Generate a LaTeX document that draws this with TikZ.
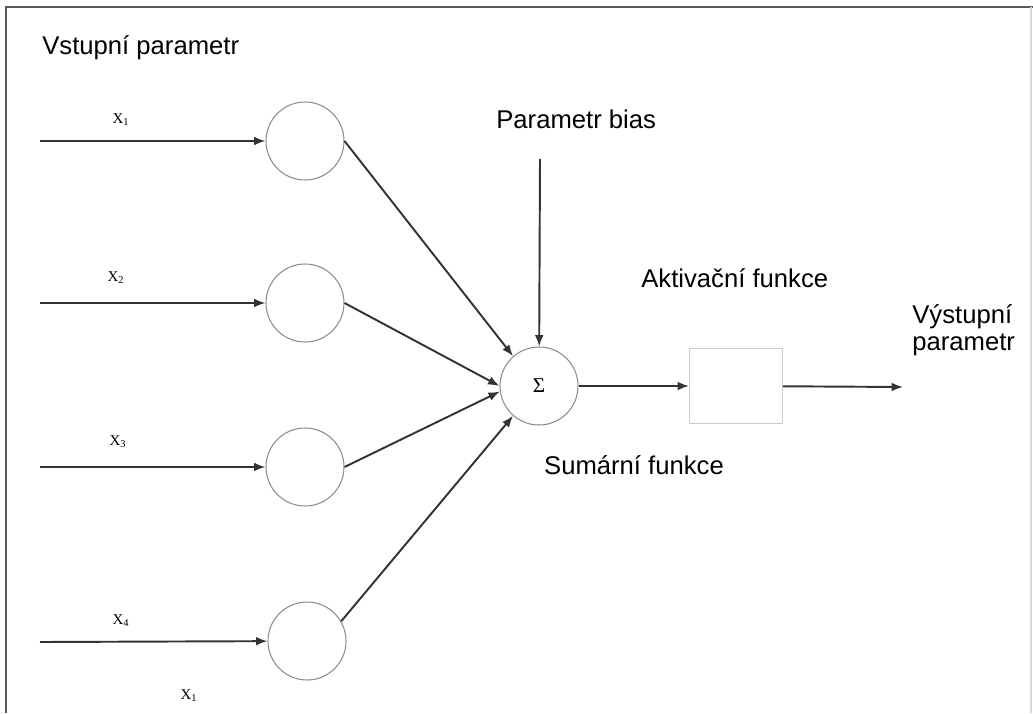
\documentclass[tikz,border=0pt]{standalone}
\usepackage{fontspec}
\setmainfont{Liberation Sans}
\newfontfamily\serifx{Liberation Serif}
\usetikzlibrary{arrows.meta}

\tikzset{
  neuron/.style={circle, draw=black!45, line width=0.6pt, minimum size=1.56cm, inner sep=0pt},
  signal/.style={-{Latex[length=6.5pt,width=5pt]}, line width=1.1pt, draw=black!80},
  caption/.style={inner sep=0pt, font=\fontsize{14.6}{15.6}\selectfont},
  xin/.style={inner sep=0pt, font=\serifx\fontsize{8.5}{9}\selectfont}
}

\begin{document}
\begin{tikzpicture}[x=0.02cm, y=-0.02cm]
  \useasboundingbox (0,0) rectangle (1033,713);
  \draw[black!65, line width=0.8pt] (6,713) -- (6,7) -- (1033,7);
  \draw[black!15, line width=0.6pt] (1031,7) -- (1031,713);

  \node[caption, anchor=base west] (intitle) at (42,55) {Vstupní parametr};
  \node[caption, anchor=base west] (biastitle) at (496,128) {Parametr bias};
  \node[caption, anchor=base west] (acttitle) at (641,287) {Aktivační funkce};
  \node[caption, anchor=base] (sumtitle) at (634,474) {Sumární funkce};
  \node[caption, anchor=base west] (outtitle1) at (912,323) {Výstupní};
  \node[caption, anchor=base west] (outtitle2) at (912,350) {parametr};

  \node[neuron] (in1) at (305,141) {};
  \node[neuron] (in2) at (305,303) {};
  \node[neuron] (in3) at (305,467) {};
  \node[neuron] (in4) at (307,641) {};
  \node[neuron] (sum) at (539,386) {\serifx\fontsize{12}{12}\selectfont Σ};
  \node[draw=black!20, line width=0.6pt, minimum width=1.86cm, minimum height=1.5cm, inner sep=0pt] (act) at (736,386) {};

  \coordinate (s1) at (40,141);
  \coordinate (s2) at (40,303);
  \coordinate (s3) at (40,467);
  \coordinate (s4) at (40,642);
  \coordinate (bias) at (540,159);
  \coordinate (out) at (903,387);

  \node[xin] (x1) at (121,120) {X\textsubscript{1}};
  \node[xin] (x2) at (116,278) {X\textsubscript{2}};
  \node[xin] (x3) at (118,442) {X\textsubscript{3}};
  \node[xin] (x4) at (121,621) {X\textsubscript{4}};
  \node[xin] (xb) at (189,696) {X\textsubscript{1}};

  \draw[signal] (s1) -- (in1);
  \draw[signal] (s2) -- (in2);
  \draw[signal] (s3) -- (in3);
  \draw[signal] (s4) -- (in4);
  \draw[signal] (in1.east) -- (sum.131);
  \draw[signal] (in2.east) -- (sum.180);
  \draw[signal] (in3.east) -- (sum.188);
  \draw[signal] (in4.30) -- (sum.229);
  \draw[signal] (bias) -- (sum);
  \draw[signal] (sum) -- (act);
  \draw[signal] (act) -- (out);
\end{tikzpicture}
\end{document}
